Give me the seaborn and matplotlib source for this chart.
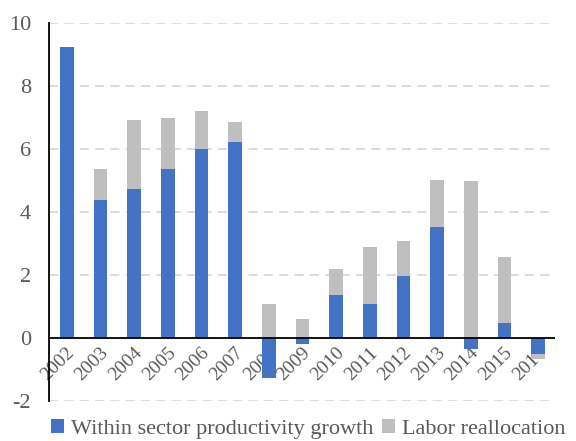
import numpy as np
import pandas as pd
import matplotlib
matplotlib.use('Agg')
import matplotlib.pyplot as plt
import seaborn as sns

# data
years = ['2002', '2003', '2004', '2005', '2006', '2007', '2008', '2009',
         '2010', '2011', '2012', '2013', '2014', '2015', '2016']
within = [9.25, 4.38, 4.72, 5.37, 6.0, 6.22, -1.26, -0.19,
          1.37, 1.08, 1.98, 3.51, -0.35, 0.48, -0.51]
realloc = [0.0, 0.97, 2.2, 1.6, 1.2, 0.62, 1.08, 0.6,
           0.81, 1.82, 1.11, 1.5, 4.98, 2.1, -0.15]
series_names = ['Within sector productivity growth', 'Labor reallocation']
y_ticks = [-2, 0, 2, 4, 6, 8, 10]

blue = '#4472C4'
grey = '#BFBFBF'
text_col = '#595959'

sns.set_style('white')
plt.rcParams['font.family'] = ['Liberation Serif', 'DejaVu Serif']

df = pd.DataFrame({'year': years, 'within': within, 'realloc': realloc})
# Excel-style stacking: positives stack up, negatives stack down
same_sign = np.sign(df['within']) == np.sign(df['realloc'])
df['stack'] = df['realloc'] + np.where(same_sign, df['within'], 0)

fig = plt.figure(figsize=(5.76, 4.41), dpi=100)
ax = fig.add_axes([0.085, 0.0907, 0.8785, 0.8573])

sns.barplot(data=df, x='year', y='stack', color=grey, saturation=1,
            width=0.4, linewidth=0, ax=ax, label=series_names[1])
sns.barplot(data=df, x='year', y='within', color=blue, saturation=1,
            width=0.4, linewidth=0, ax=ax, label=series_names[0])
if ax.get_legend() is not None:
    ax.get_legend().remove()

ax.set_ylim(-2, 10)
ax.set_xlim(-0.53, 14.5)
ax.set_yticks(y_ticks)
ax.set_yticklabels([str(t) for t in y_ticks], fontsize=16, color=text_col)
ax.tick_params(axis='y', length=0, pad=13)
ax.set_xticks([])
ax.set_xlabel('')
ax.set_ylabel('')

for t in y_ticks:
    if t != 0:
        ax.axhline(t, color='#D9D9D9', lw=1.3, ls=(0, (5, 3.5)), zorder=0)
ax.axhline(0, color='black', lw=1.3, zorder=3)

for s in ['top', 'right', 'bottom']:
    ax.spines[s].set_visible(False)
ax.spines['left'].set_color('black')
ax.spines['left'].set_linewidth(1.3)

# year labels sit just under the zero line, behind the bars
for i, yr in enumerate(years):
    ax.text(i - 0.02, -0.2, yr, rotation=45, ha='right', va='top',
            rotation_mode='anchor', fontsize=14, color=text_col, zorder=0.5)

handles, labels = ax.get_legend_handles_labels()
order = [labels.index(n) for n in series_names]
fig.legend([handles[k] for k in order], [labels[k] for k in order],
           loc='lower center', bbox_to_anchor=(0.535, -0.04), ncol=2,
           frameon=False, fontsize=16, labelcolor=text_col,
           handlelength=0.6, handleheight=0.6, handletextpad=0.3,
           columnspacing=0.4)

fig.savefig('out.png', dpi=100)
